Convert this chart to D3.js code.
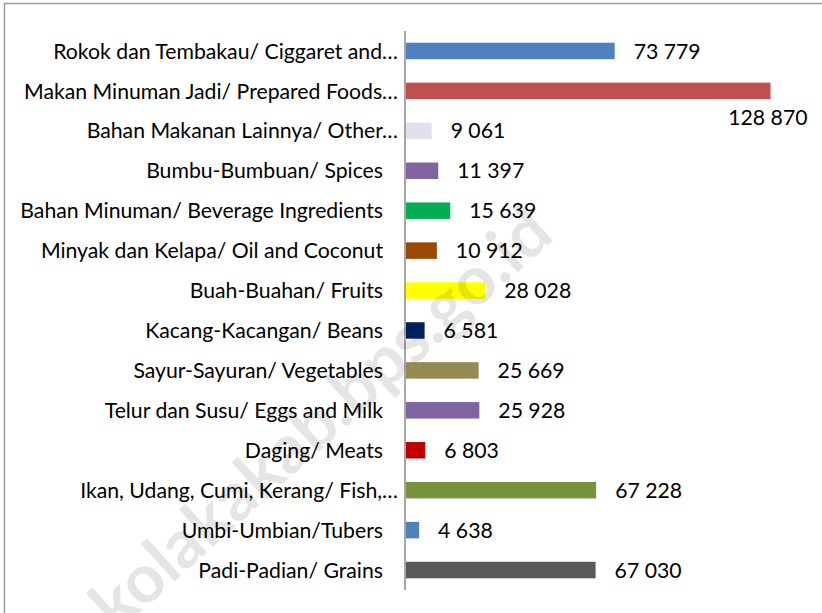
<!DOCTYPE html>
<html>
<head>
<meta charset="utf-8">
<script src="https://cdn.jsdelivr.net/npm/d3@7"></script>
<style>
  html, body { margin: 0; padding: 0; background: #fff; }
  svg { display: block; }
</style>
</head>
<body>
<svg id="chart" width="822" height="613"></svg>
<script>
const categories = [
  "Rokok dan Tembakau/ Ciggaret and…",
  "Makan Minuman Jadi/ Prepared Foods…",
  "Bahan Makanan Lainnya/ Other…",
  "Bumbu-Bumbuan/ Spices",
  "Bahan Minuman/ Beverage Ingredients",
  "Minyak dan Kelapa/ Oil and Coconut",
  "Buah-Buahan/ Fruits",
  "Kacang-Kacangan/ Beans",
  "Sayur-Sayuran/ Vegetables",
  "Telur dan Susu/ Eggs and Milk",
  "Daging/ Meats",
  "Ikan, Udang, Cumi, Kerang/ Fish,…",
  "Umbi-Umbian/Tubers",
  "Padi-Padian/ Grains"
];
const values = [73779, 128870, 9061, 11397, 15639, 10912, 28028, 6581, 25669, 25928, 6803, 67228, 4638, 67030];
const colors = ["#4F81BD", "#C0504D", "#E4DFEC", "#8064A2", "#00B050", "#984807", "#FFFF00",
                "#002060", "#948A54", "#8064A2", "#C00000", "#77933C", "#4F81BD", "#595959"];
const axisMax = 140000;
const watermark = "kolakakab.bps.go.id";

const svg = d3.select("#chart");
const FONT = "Lato, 'Open Sans', sans-serif";

// frame
svg.append("rect")
  .attr("x", 4.5).attr("y", 3.5).attr("width", 900).attr("height", 700)
  .attr("fill", "none").attr("stroke", "#9a9a9a").attr("stroke-width", 1.5);

const x0 = 405, x1 = 801, yTop = 31, yBot = 590;
const x = d3.scaleLinear().domain([0, axisMax]).range([x0 + 1, x1 + 1]);
const y = d3.scaleBand().domain(categories).range([yTop, yBot]).paddingInner(0.587).paddingOuter(0.2935);

// fit font size to reference label width
const probe = svg.append("text").attr("font-family", FONT).attr("font-size", 20)
  .text("Bahan Minuman/ Beverage Ingredients");
const w20 = probe.node().getComputedTextLength();
probe.remove();
const fs = 20 * 363 / w20;

// bars
svg.append("g").selectAll("rect").data(categories).join("rect")
  .attr("x", x(0))
  .attr("y", d => y(d))
  .attr("width", (d, i) => x(values[i]) - x(0))
  .attr("height", y.bandwidth())
  .attr("fill", (d, i) => colors[i]);

// axis line
svg.append("line").attr("x1", x0).attr("x2", x0).attr("y1", yTop).attr("y2", yBot)
  .attr("stroke", "#a6a6a6").attr("stroke-width", 2);

// category labels
svg.append("g").selectAll("text").data(categories).join("text")
  .attr("x", d => d.endsWith("…") ? 398 : 383)
  .attr("y", d => y(d) + y.bandwidth() / 2)
  .attr("dy", "0.36em")
  .attr("text-anchor", "end")
  .attr("font-family", FONT).attr("font-size", fs).attr("fill", "#000")
  .text(d => d);

// value labels
const fmt = v => d3.format(",")(v).replace(/,/g, " ");
svg.append("g").selectAll("text").data(categories).join("text")
  .each(function(d, i) {
    const t = d3.select(this)
      .attr("font-family", FONT).attr("font-size", fs).attr("fill", "#000")
      .text(fmt(values[i]));
    const cx = x(values[i]) + 19;
    const cy = y(d) + y.bandwidth() / 2;
    const w = this.getComputedTextLength();
    if (cx + w > x1) {
      t.attr("x", x(values[i]) + 37).attr("y", cy + 26.5).attr("dy", "0.36em").attr("text-anchor", "end");
    } else {
      t.attr("x", cx).attr("y", cy).attr("dy", "0.36em").attr("text-anchor", "start");
    }
  });

// watermark (end anchored near the upper right of its diagonal)
svg.append("text")
  .attr("transform", "translate(556,238) rotate(-42)")
  .attr("text-anchor", "end")
  .attr("font-family", "Lato, sans-serif")
  .attr("font-weight", "bold").attr("font-size", 68)
  .attr("fill", "#000").attr("fill-opacity", 0.1)
  .text(watermark);
</script>
</body>
</html>
